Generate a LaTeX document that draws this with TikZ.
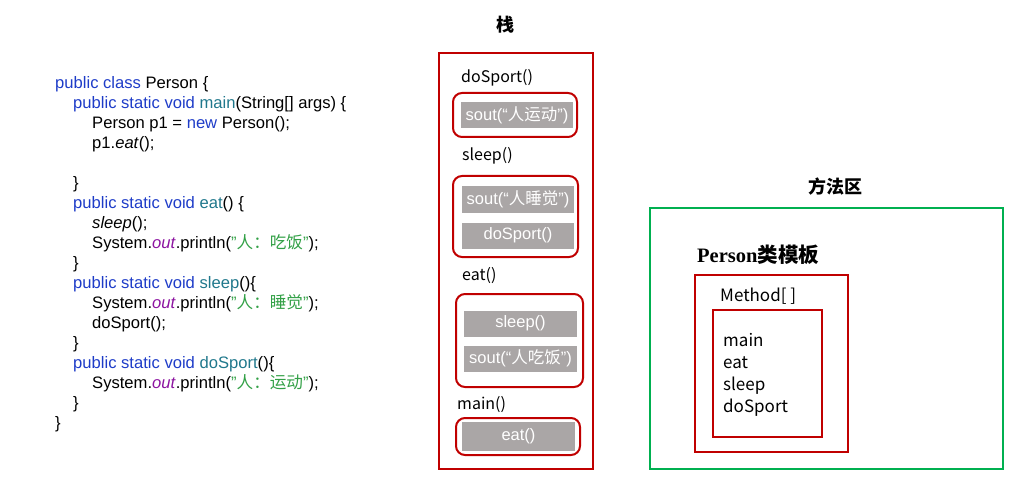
\documentclass[tikz,border=0pt]{standalone}
\usepackage{fontspec}
\setmainfont{Liberation Sans}
\newfontfamily\cjk{Noto Sans CJK SC}
\newfontfamily\titleserif{Liberation Serif}
\usepackage{xcolor}
\definecolor{kwblue}{RGB}{30,60,200}
\definecolor{fnteal}{RGB}{32,120,140}
\definecolor{outpurple}{RGB}{140,20,160}
\definecolor{strgreen}{RGB}{50,160,70}
\definecolor{stackred}{RGB}{192,0,0}
\definecolor{areagreen}{RGB}{0,176,80}
\definecolor{boxgray}{RGB}{170,166,166}
\newcommand{\kw}[1]{\textcolor{kwblue}{#1}}
\newcommand{\fn}[1]{\textcolor{fnteal}{#1}}
\newcommand{\outf}[1]{\textcolor{outpurple}{\textit{#1}}}
\newcommand{\strg}[1]{\textcolor{strgreen}{\symbol{34}{\cjk #1}\symbol{34}}}
\newcommand{\sout}[1]{sout(“{\cjk #1}”)}

\begin{document}
\begin{tikzpicture}[x=1pt,y=-1pt,
    redline/.style={draw=stackred, line width=2pt},
    frame/.style={draw=stackred, line width=2pt, rounded corners=9pt},
    fname/.style={anchor=west, font=\cjk\fontsize{16}{16}\selectfont, inner sep=0pt},
    callbox/.style={fill=boxgray, text=white, font=\fontsize{16.5}{16.5}\selectfont,
      minimum height=26pt, inner sep=0pt},
    heading/.style={font=\cjk\bfseries\fontsize{18}{18}\selectfont}]
        \useasboundingbox (0,0) rectangle (1026,484);
        % Source code
        \node[anchor=north west, align=left, inner sep=0pt,
          font=\fontsize{16.6}{20}\selectfont] (code) at (55,76) {%
          \kw{public class} Person \{\\
          \hspace*{18pt}\kw{public static void} \fn{main}(String[] args) \{\\
          \hspace*{37pt}Person p1 = \kw{new} Person();\\
          \hspace*{37pt}p1.\textit{eat}();\\
          ~\\
          \hspace*{18pt}\}\\
          \hspace*{18pt}\kw{public static void} \fn{eat}() \{\\
          \hspace*{37pt}\textit{sleep}();\\
          \hspace*{37pt}System.\outf{out}.println(\strg{人：吃饭});\\
          \hspace*{18pt}\}\\
          \hspace*{18pt}\kw{public static void} \fn{sleep}()\{\\
          \hspace*{37pt}System.\outf{out}.println(\strg{人：睡觉});\\
          \hspace*{37pt}doSport();\\
          \hspace*{18pt}\}\\
          \hspace*{18pt}\kw{public static void} \fn{doSport}()\{\\
          \hspace*{37pt}System.\outf{out}.println(\strg{人：运动});\\
          \hspace*{18pt}\}\\
          \}};
        % Stack
        \node[heading] (stacktitle) at (505,25) {栈};
        \draw[redline] (439,53) rectangle (593,469);
        \node[fname] (fsport) at (461,78) {doSport()};
        \draw[frame] (453,93) rectangle (577,137);
        \node[callbox, minimum width=112pt] (csport) at (517,115.5) {\sout{人运动}};
        \node[fname] (fsleep) at (462,156) {sleep()};
        \draw[frame] (453,176) rectangle (578,257);
        \node[callbox, minimum width=112pt] (csleepA) at (518,199.5) {\sout{人睡觉}};
        \node[callbox, minimum width=112pt] (csleepB) at (518,235.5) {doSport()};
        \node[fname] (feat) at (462,276) {eat()};
        \draw[frame] (456,294) rectangle (583,387);
        \node[callbox, minimum width=113pt] (ceatA) at (520.5,323.5) {sleep()};
        \node[callbox, minimum width=113pt] (ceatB) at (520.5,358.5) {\sout{人吃饭}};
        \node[fname] (fmain) at (457,405) {main()};
        \draw[frame] (456,418) rectangle (580,455);
        \node[callbox, minimum width=113pt, minimum height=29pt] (cmain) at (518.5,436.5) {eat()};
        % Method area
        \node[heading] (areatitle) at (835,187) {方法区};
        \draw[draw=areagreen, line width=2pt] (650,208) rectangle (1003,469);
        \node[anchor=west, inner sep=0pt, font=\fontsize{20.5}{20.5}\selectfont] (tpl) at (697,255)
          {{\titleserif\bfseries Person}{\cjk\bfseries 类模板}};
        \draw[redline] (695,275) rectangle (848,452);
        \node[fname, font=\cjk\fontsize{17}{17}\selectfont] (mtitle) at (720,296) {Method[ ]};
        \draw[redline] (713,310) rectangle (822,437);
        \node[anchor=north west, align=left, inner sep=0pt,
          font=\cjk\fontsize{17}{22}\selectfont] (mlist) at (723,333) {main\\eat\\sleep\\doSport};
    \end{tikzpicture}
\end{document}
